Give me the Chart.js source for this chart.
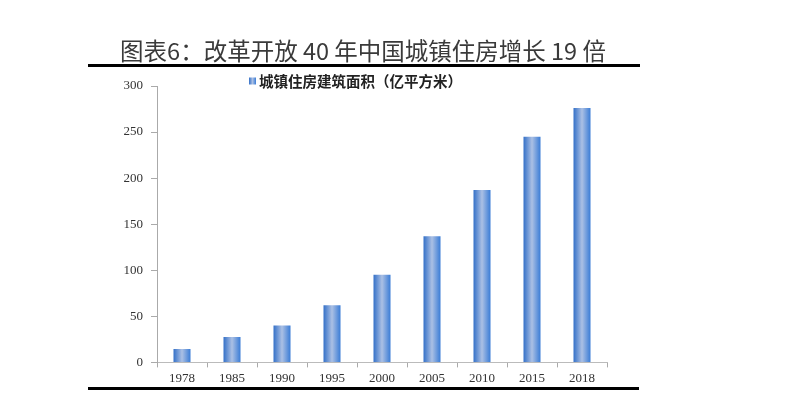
<!DOCTYPE html>
<html><head><meta charset="utf-8">
<script src="https://cdn.jsdelivr.net/npm/chart.js@4/dist/chart.umd.min.js"></script>
<style>
html,body{margin:0;padding:0;background:#fff;}
#wrap{position:relative;width:792px;height:397px;overflow:hidden;}
#c{position:absolute;left:0;top:0;}
#title{position:absolute;left:0;width:726px;top:37px;height:26px;line-height:26px;text-align:center;font-family:"Noto Sans CJK SC","Noto Sans",sans-serif;font-size:23.5px;color:#3a3a3a;white-space:nowrap;}
.rule{position:absolute;background:#000;}
</style></head>
<body><div id="wrap">
<canvas id="c" width="792" height="397"></canvas>
<div id="title">图表6：改革开放 40 年中国城镇住房增长 19 倍</div>
<div class="rule" style="left:88px;top:64px;width:552px;height:3px;"></div>
<div class="rule" style="left:88px;top:387px;width:551px;height:3px;"></div>
</div>
<script>
const categories = ['1978','1985','1990','1995','2000','2005','2010','2015','2018'];
const seriesLabel = '城镇住房建筑面积（亿平方米）';
const seriesValues = [14.5, 27.5, 40, 62, 95, 137, 187, 245, 276];
const yTicks = [0, 50, 100, 150, 200, 250, 300];

function barGradient(ctx, x0, x1) {
  const g = ctx.createLinearGradient(x0, 0, x1, 0);
  g.addColorStop(0, '#3370c8');
  g.addColorStop(0.5, '#abc0e4');
  g.addColorStop(1, '#3a7cd6');
  return g;
}

const gradientPlugin = {
  id: 'gradBars',
  beforeDatasetsDraw(chart) {
    const ctx = chart.ctx;
    chart.getDatasetMeta(0).data.forEach(el => {
      const w = el.width;
      el.options = Object.assign({}, el.options, {
        backgroundColor: barGradient(ctx, el.x - w / 2, el.x + w / 2)
      });
    });
  }
};

const legendPlugin = {
  id: 'customLegend',
  afterDraw(chart) {
    const ctx = chart.ctx;
    const ds = chart.data.datasets[0];
    const area = chart.chartArea;
    const x = area.left + 92;
    const cy = area.top - 5;
    ctx.save();
    ctx.fillStyle = barGradient(ctx, x, x + 7);
    ctx.fillRect(x, cy - 3.5, 7, 7);
    ctx.font = 'bold 14.5px "Noto Sans CJK SC", sans-serif';
    ctx.fillStyle = '#222';
    ctx.textBaseline = 'middle';
    ctx.textAlign = 'left';
    ctx.fillText(ds.label, x + 10, cy);
    ctx.restore();
  }
};

new Chart(document.getElementById('c'), {
  type: 'bar',
  data: {
    labels: categories,
    datasets: [{
      label: seriesLabel,
      data: seriesValues,
      backgroundColor: () => '#5b8fd6',
      borderWidth: 0,
      barPercentage: 0.34,
      categoryPercentage: 1.0
    }]
  },
  options: {
    responsive: false,
    animation: false,
    layout: { padding: { left: 88, right: 185, top: 86, bottom: 8 } },
    plugins: { legend: { display: false }, tooltip: { enabled: false }, title: { display: false } },
    scales: {
      x: {
        offset: true,
        grid: { display: true, drawOnChartArea: false, offset: true, tickLength: 5, color: '#aaa' },
        border: { display: true, color: '#bbb', width: 1 },
        ticks: { color: '#333', font: { family: '"Liberation Serif", serif', size: 13 }, padding: 3, maxRotation: 0 }
      },
      y: {
        min: 0, max: 300,
        afterBuildTicks(scale) { scale.ticks = yTicks.map(v => ({ value: v })); },
        afterFit(scale) { scale.width = 69; },
        grid: { display: true, drawOnChartArea: false, tickLength: 6, color: '#aaa' },
        border: { display: true, color: '#aaa', width: 1 },
        ticks: { color: '#333', font: { family: '"Liberation Serif", serif', size: 13 }, padding: 8 }
      }
    }
  },
  plugins: [gradientPlugin, legendPlugin]
});
</script>
</body></html>
